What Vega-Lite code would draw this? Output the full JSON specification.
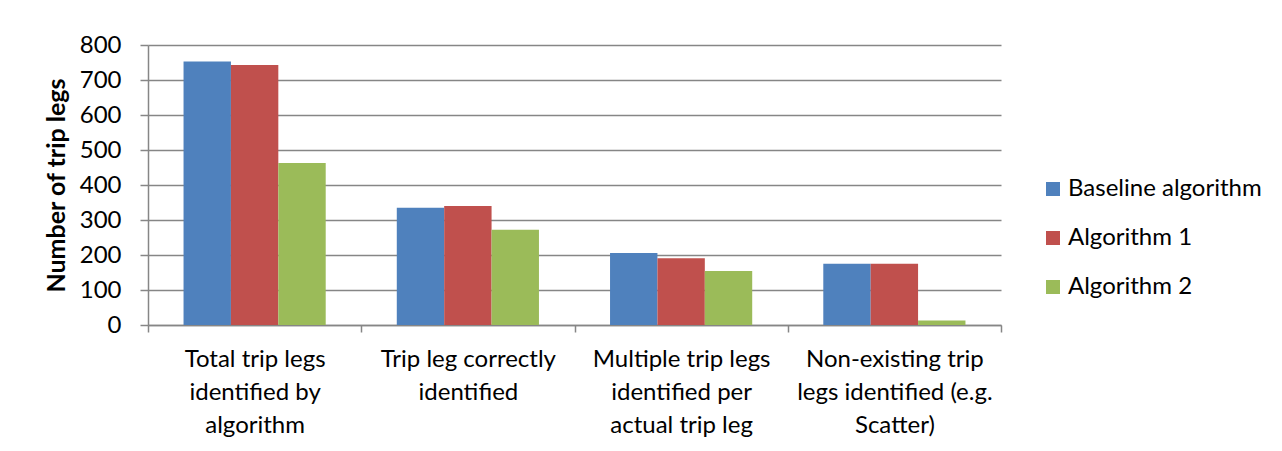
{
  "$schema": "https://vega.github.io/schema/vega-lite/v6.json",
  "width": 853,
  "height": 280,
  "autosize": {"type": "none"},
  "padding": {"left": 148, "top": 45, "right": 281, "bottom": 126},
  "background": "white",
  "config": {"font": "Lato", "view": {"stroke": null}},
  "data": {
    "values": [
      {"measure": "Total trip legs identified by algorithm", "algorithm": "Baseline algorithm", "trip_legs": 753},
      {"measure": "Total trip legs identified by algorithm", "algorithm": "Algorithm 1", "trip_legs": 743},
      {"measure": "Total trip legs identified by algorithm", "algorithm": "Algorithm 2", "trip_legs": 463},
      {"measure": "Trip leg correctly identified", "algorithm": "Baseline algorithm", "trip_legs": 335},
      {"measure": "Trip leg correctly identified", "algorithm": "Algorithm 1", "trip_legs": 340},
      {"measure": "Trip leg correctly identified", "algorithm": "Algorithm 2", "trip_legs": 272},
      {"measure": "Multiple trip legs identified per actual trip leg", "algorithm": "Baseline algorithm", "trip_legs": 206},
      {"measure": "Multiple trip legs identified per actual trip leg", "algorithm": "Algorithm 1", "trip_legs": 191},
      {"measure": "Multiple trip legs identified per actual trip leg", "algorithm": "Algorithm 2", "trip_legs": 154},
      {"measure": "Non-existing trip legs identified (e.g. Scatter)", "algorithm": "Baseline algorithm", "trip_legs": 175},
      {"measure": "Non-existing trip legs identified (e.g. Scatter)", "algorithm": "Algorithm 1", "trip_legs": 175},
      {"measure": "Non-existing trip legs identified (e.g. Scatter)", "algorithm": "Algorithm 2", "trip_legs": 13}
    ]
  },
  "mark": {"type": "bar"},
  "encoding": {
    "x": {
      "field": "measure",
      "type": "nominal",
      "sort": [
        "Total trip legs identified by algorithm",
        "Trip leg correctly identified",
        "Multiple trip legs identified per actual trip leg",
        "Non-existing trip legs identified (e.g. Scatter)"
      ],
      "scale": {"paddingInner": 0, "paddingOuter": 0},
      "axis": {
        "title": null,
        "labelAngle": 0,
        "tickBand": "extent",
        "tickSize": 7,
        "tickColor": "#868686",
        "tickWidth": 1.5,
        "domainColor": "#868686",
        "domainWidth": 1.5,
        "labelFontSize": 24,
        "labelLineHeight": 33,
        "labelLimit": 400,
        "labelColor": "#000000",
        "labelPadding": 15,
        "labelExpr": "{'Total trip legs identified by algorithm': ['Total trip legs', 'identified by', 'algorithm'], 'Trip leg correctly identified': ['Trip leg correctly', 'identified'], 'Multiple trip legs identified per actual trip leg': ['Multiple trip legs', 'identified per', 'actual trip leg'], 'Non-existing trip legs identified (e.g. Scatter)': ['Non-existing trip', 'legs identified (e.g.', 'Scatter)']}[datum.label]"
      }
    },
    "xOffset": {
      "field": "algorithm",
      "sort": ["Baseline algorithm", "Algorithm 1", "Algorithm 2"],
      "scale": {"paddingInner": 0, "paddingOuter": 0.75}
    },
    "y": {
      "field": "trip_legs",
      "type": "quantitative",
      "scale": {"domain": [0, 800], "nice": false},
      "axis": {
        "title": "Number of trip legs",
        "titleFontSize": 25,
        "titleFontWeight": "bold",
        "titleColor": "#000000",
        "titlePadding": 10,
        "values": [0, 100, 200, 300, 400, 500, 600, 700, 800],
        "grid": true,
        "gridColor": "#868686",
        "gridWidth": 1.5,
        "domainColor": "#868686",
        "domainWidth": 1.5,
        "tickColor": "#868686",
        "tickWidth": 1.5,
        "tickSize": 8,
        "labelFontSize": 24,
        "labelColor": "#000000",
        "labelPadding": 19
      }
    },
    "color": {
      "field": "algorithm",
      "type": "nominal",
      "sort": ["Baseline algorithm", "Algorithm 1", "Algorithm 2"],
      "scale": {
        "domain": ["Baseline algorithm", "Algorithm 1", "Algorithm 2"],
        "range": ["#4F81BD", "#C0504D", "#9BBB59"]
      },
      "legend": {
        "title": null,
        "orient": "none",
        "legendX": 893,
        "legendY": 132,
        "padding": 0,
        "symbolType": "square",
        "symbolSize": 196,
        "symbolStrokeWidth": 0,
        "labelFontSize": 24,
        "labelLimit": 400,
        "labelColor": "#000000",
        "labelOffset": 3,
        "rowPadding": 25
      }
    }
  }
}
